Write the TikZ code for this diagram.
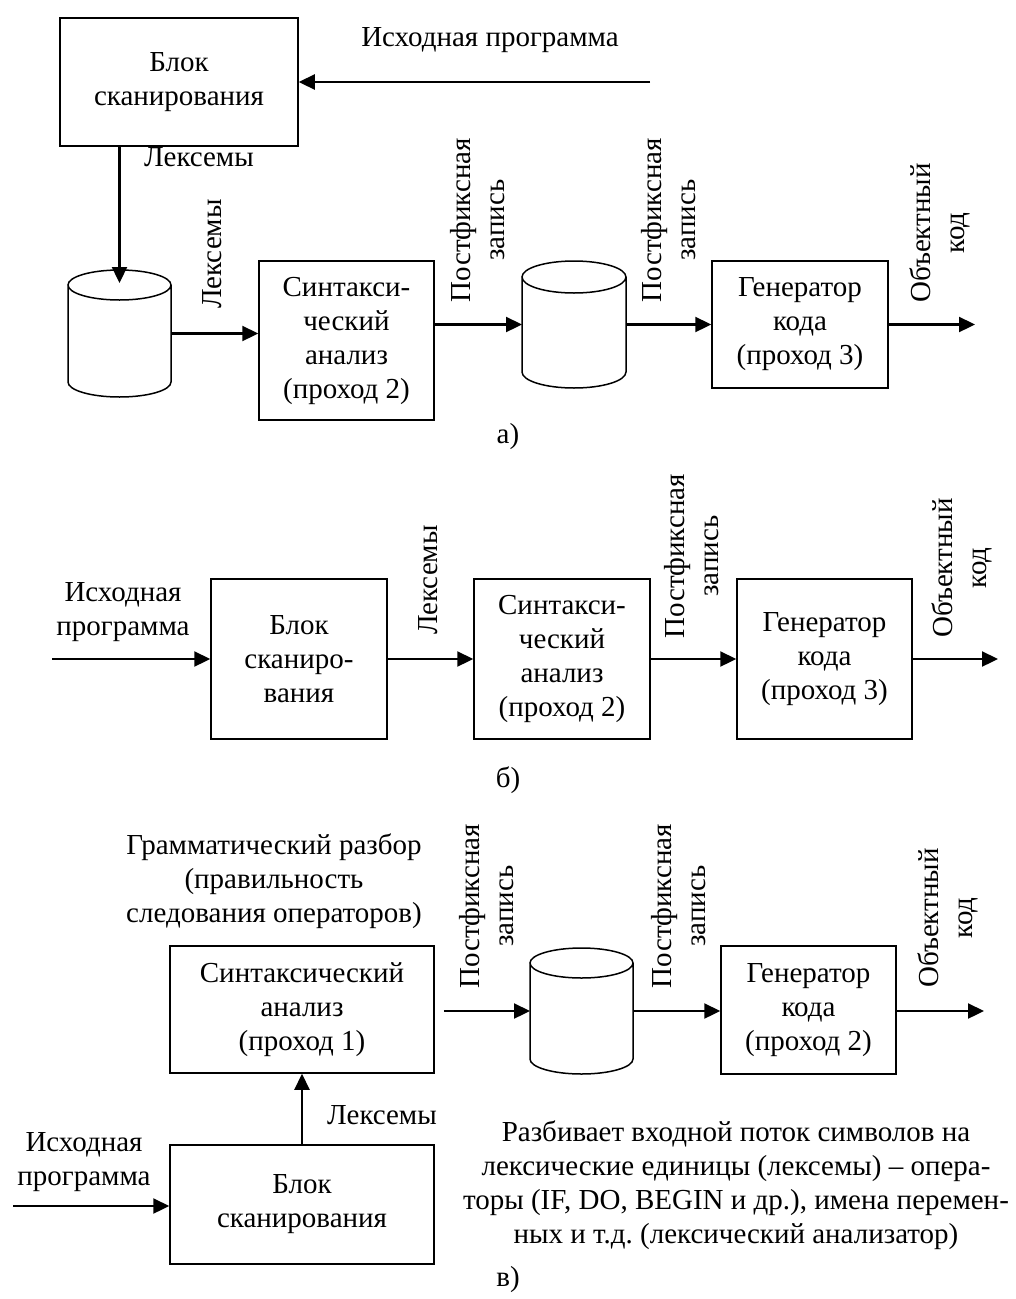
\documentclass[tikz,border=0pt]{standalone}
\usepackage{fontspec}
\setmainfont{Liberation Serif}
\usetikzlibrary{arrows.meta,calc}
\newcommand\figfont{\fontsize{29pt}{34pt}\selectfont}
\newcommand\cylfig[3]{%
  \draw[boxline] ([yshift=-#3]#1.north west) -- ([yshift=#3]#1.south west)
    arc[start angle=180,end angle=360,x radius=#2,y radius=#3]
    -- ([yshift=-#3]#1.north east)
    arc[start angle=0,end angle=360,x radius=#2,y radius=#3];
}
\tikzset{
  boxline/.style={line width=1.5pt},
  blk/.style={draw, line width=1.5pt, inner sep=0pt, align=center, font=\figfont},
  cylnode/.style={inner sep=0pt, outer sep=0pt},
  arr/.style={line width=2.3pt, -{Triangle[length=16pt,width=15pt]}},
  lbl/.style={align=center, inner sep=0pt, font=\figfont},
  vlbl/.style={lbl, rotate=90}
}
\frenchspacing
\begin{document}
\begin{tikzpicture}[x=1pt,y=1pt]
\useasboundingbox (0,0) rectangle (1016,-1299);
% ---------- a) ----------
\node[blk, minimum width=238pt, minimum height=128pt] (blkA) at (179,-82) {Блок\\сканирования};
\coordinate (srcA) at (650,-82);
\draw[arr] (srcA) -- (blkA.east);
\node[lbl] (srcAl) at (490,-40) {Исходная программа};
\node[cylnode, minimum width=103pt, minimum height=127pt] (cylA1) at (119.5,-333.5) {};
\cylfig{cylA1}{51.5pt}{15pt}
\draw[arr] (blkA.south -| cylA1.north) -- ([yshift=-13pt]cylA1.north);
\node[lbl] (lexA1) at (199,-157) {Лексемы};
\node[blk, minimum width=175pt, minimum height=159pt] (synA) at (346.5,-340.5) {Синтакси-\\ческий\\анализ\\(проход 2)};
\draw[arr] (cylA1.east) -- (cylA1.east -| synA.west);
\node[vlbl] (lexA2) at (212,-254) {Лексемы};
\node[cylnode, minimum width=104pt, minimum height=127pt] (cylA2) at (574,-324.5) {};
\cylfig{cylA2}{52pt}{16pt}
\draw[arr] (cylA2.west -| synA.east) -- (cylA2.west);
\node[vlbl] (pfA1) at (478,-220) {Постфиксная\\запись};
\node[blk, minimum width=176pt, minimum height=127pt] (genA) at (800,-324.5) {Генератор\\кода\\(проход 3)};
\draw[arr] (cylA2.east) -- (genA.west);
\node[vlbl] (pfA2) at (669,-220) {Постфиксная\\запись};
\coordinate (outA) at (975,-324.5);
\draw[arr] (genA.east) -- (outA);
\node[vlbl] (objA) at (940,-233) {Объектный\\код};
\node[lbl] (capA) at (508,-437) {а)};
% ---------- b) ----------
\node[lbl] (srcBl) at (123,-612) {Исходная\\программа};
\coordinate (srcB) at (52,-659);
\node[blk, minimum width=176pt, minimum height=160pt] (blkB) at (299,-659) {Блок\\сканиро-\\вания};
\draw[arr] (srcB) -- (blkB.west);
\node[blk, minimum width=176pt, minimum height=160pt] (synB) at (562,-659) {Синтакси-\\ческий\\анализ\\(проход 2)};
\draw[arr] (blkB.east) -- (synB.west);
\node[vlbl] (lexB) at (428,-580) {Лексемы};
\node[blk, minimum width=175pt, minimum height=160pt] (genB) at (824.5,-659) {Генератор\\кода\\(проход 3)};
\draw[arr] (synB.east) -- (genB.west);
\node[vlbl] (pfB) at (692,-556) {Постфиксная\\запись};
\coordinate (outB) at (998,-659);
\draw[arr] (genB.east) -- (outB);
\node[vlbl] (objB) at (962,-568) {Объектный\\код};
\node[lbl] (capB) at (508,-780) {б)};
% ---------- c) ----------
\node[lbl] (gram) at (274,-881) {Грамматический разбор\\(правильность\\следования операторов)};
\node[blk, minimum width=264pt, minimum height=127pt] (synC) at (302,-1009.5) {Синтаксический\\анализ\\(проход 1)};
\node[cylnode, minimum width=103pt, minimum height=126pt] (cylC) at (581.5,-1011) {};
\cylfig{cylC}{51.5pt}{15pt}
\draw[arr] ($(synC.east |- cylC.west)+(9,0)$) -- (cylC.west);
\node[vlbl] (pfC1) at (487,-906) {Постфиксная\\запись};
\node[blk, minimum width=175pt, minimum height=128pt] (genC) at (808.5,-1010) {Генератор\\кода\\(проход 2)};
\draw[arr] (cylC.east) -- (cylC.east -| genC.west);
\node[vlbl] (pfC2) at (679,-906) {Постфиксная\\запись};
\coordinate (outC) at (984,-1011);
\draw[arr] (cylC.east -| genC.east) -- (outC);
\node[vlbl] (objC) at (948,-918) {Объектный\\код};
\node[blk, minimum width=264pt, minimum height=119pt] (blkC) at (302,-1204.5) {Блок\\сканирования};
\draw[arr] (blkC.north) -- (blkC.north |- synC.south);
\node[lbl] (lexC) at (382,-1115) {Лексемы};
\node[lbl] (srcCl) at (84,-1162) {Исходная\\программа};
\coordinate (srcC) at (13,-1206);
\draw[arr] (srcC) -- (srcC -| blkC.west);
\node[lbl] (desc) at (736,-1185) {Разбивает входной поток символов на\\лексические единицы (лексемы) – опера-\\торы (IF, DO, BEGIN и др.), имена перемен-\\ных и т.д. (лексический анализатор)};
\node[lbl] (capC) at (508,-1280) {в)};
\end{tikzpicture}
\end{document}
